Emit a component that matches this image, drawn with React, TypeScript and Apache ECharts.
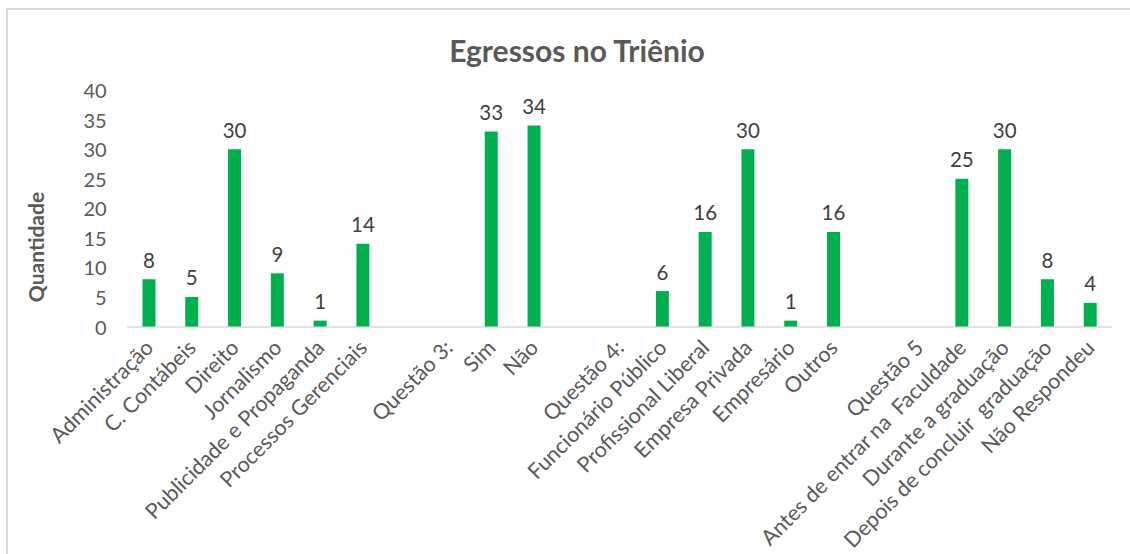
import React, { useEffect, useRef } from "react";
import * as echarts from "echarts";

const categories: string[] = [
  "Administração", "C. Contábeis", "Direito", "Jornalismo", "Publicidade e Propaganda", "Processos Gerenciais",
  "", "Questão 3:", "Sim", "Não",
  "", "Questão 4:", "Funcionário Público", "Profissional Liberal", "Empresa Privada", "Empresário", "Outros",
  "", "Questão 5", "Antes de entrar na  Faculdade", "Durante a graduação", "Depois de concluir  graduação", "Não Respondeu",
];
const values: (number | null)[] = [
  8, 5, 30, 9, 1, 14,
  null, null, 33, 34,
  null, null, 6, 16, 30, 1, 16,
  null, null, 25, 30, 8, 4,
];
const yTicks = { min: 0, max: 40, interval: 5 };
const titleText = "Egressos no Triênio";
const yName = "Quantidade";

export default function App() {
  const ref = useRef<HTMLDivElement>(null);
  useEffect(() => {
    document.body.style.margin = "0";
    const chart = echarts.init(ref.current!, undefined, { renderer: "svg" });
    chart.setOption({
      animation: false,
      backgroundColor: "#ffffff",
      textStyle: { fontFamily: "Lato" },
      title: {
        text: titleText,
        left: 572,
        top: 30,
        textAlign: "center",
        textStyle: { fontFamily: "Lato", fontWeight: "bold", fontSize: 30, color: "#595959" },
      },
      grid: { left: 127.6, right: 18.4, top: 90, bottom: 224, containLabel: false },
      xAxis: {
        type: "category",
        data: categories,
        axisLine: { lineStyle: { color: "#d9d9d9", width: 1.5 } },
        axisTick: { show: false },
        axisLabel: {
          interval: 0,
          rotate: 45,
          margin: 17,
          fontFamily: "Lato",
          fontSize: 21.5,
          color: "#595959",
        },
      },
      yAxis: {
        type: "value",
        min: yTicks.min,
        max: yTicks.max,
        interval: yTicks.interval,
        axisLine: { show: false },
        axisTick: { show: false },
        splitLine: { show: false },
        axisLabel: { fontFamily: "Lato", fontSize: 20, color: "#595959", margin: 21 },
      },
      series: [
        {
          type: "bar",
          data: values,
          barWidth: 13,
          itemStyle: { color: "#00b050" },
          label: {
            show: true,
            position: "top",
            distance: 9,
            fontFamily: "Lato",
            fontSize: 20.5,
            color: "#404040",
          },
        },
      ],
      graphic: [
        {
          type: "line",
          shape: { x1: 7, y1: 9, x2: 7, y2: 554 },
          style: { stroke: "#d9d9d9", lineWidth: 2 },
        },
        {
          type: "line",
          shape: { x1: 6, y1: 9, x2: 1130, y2: 9 },
          style: { stroke: "#d9d9d9", lineWidth: 2 },
        },
        {
          type: "text",
          x: 35,
          y: 247,
          rotation: Math.PI / 2,
          style: {
            text: yName,
            fontFamily: "Lato",
            fontWeight: "bold",
            fontSize: 21,
            fill: "#595959",
            align: "center",
            verticalAlign: "middle",
          },
        },
      ],
    });
    return () => chart.dispose();
  }, []);
  return <div ref={ref} style={{ width: 1130, height: 554 }} />;
}
